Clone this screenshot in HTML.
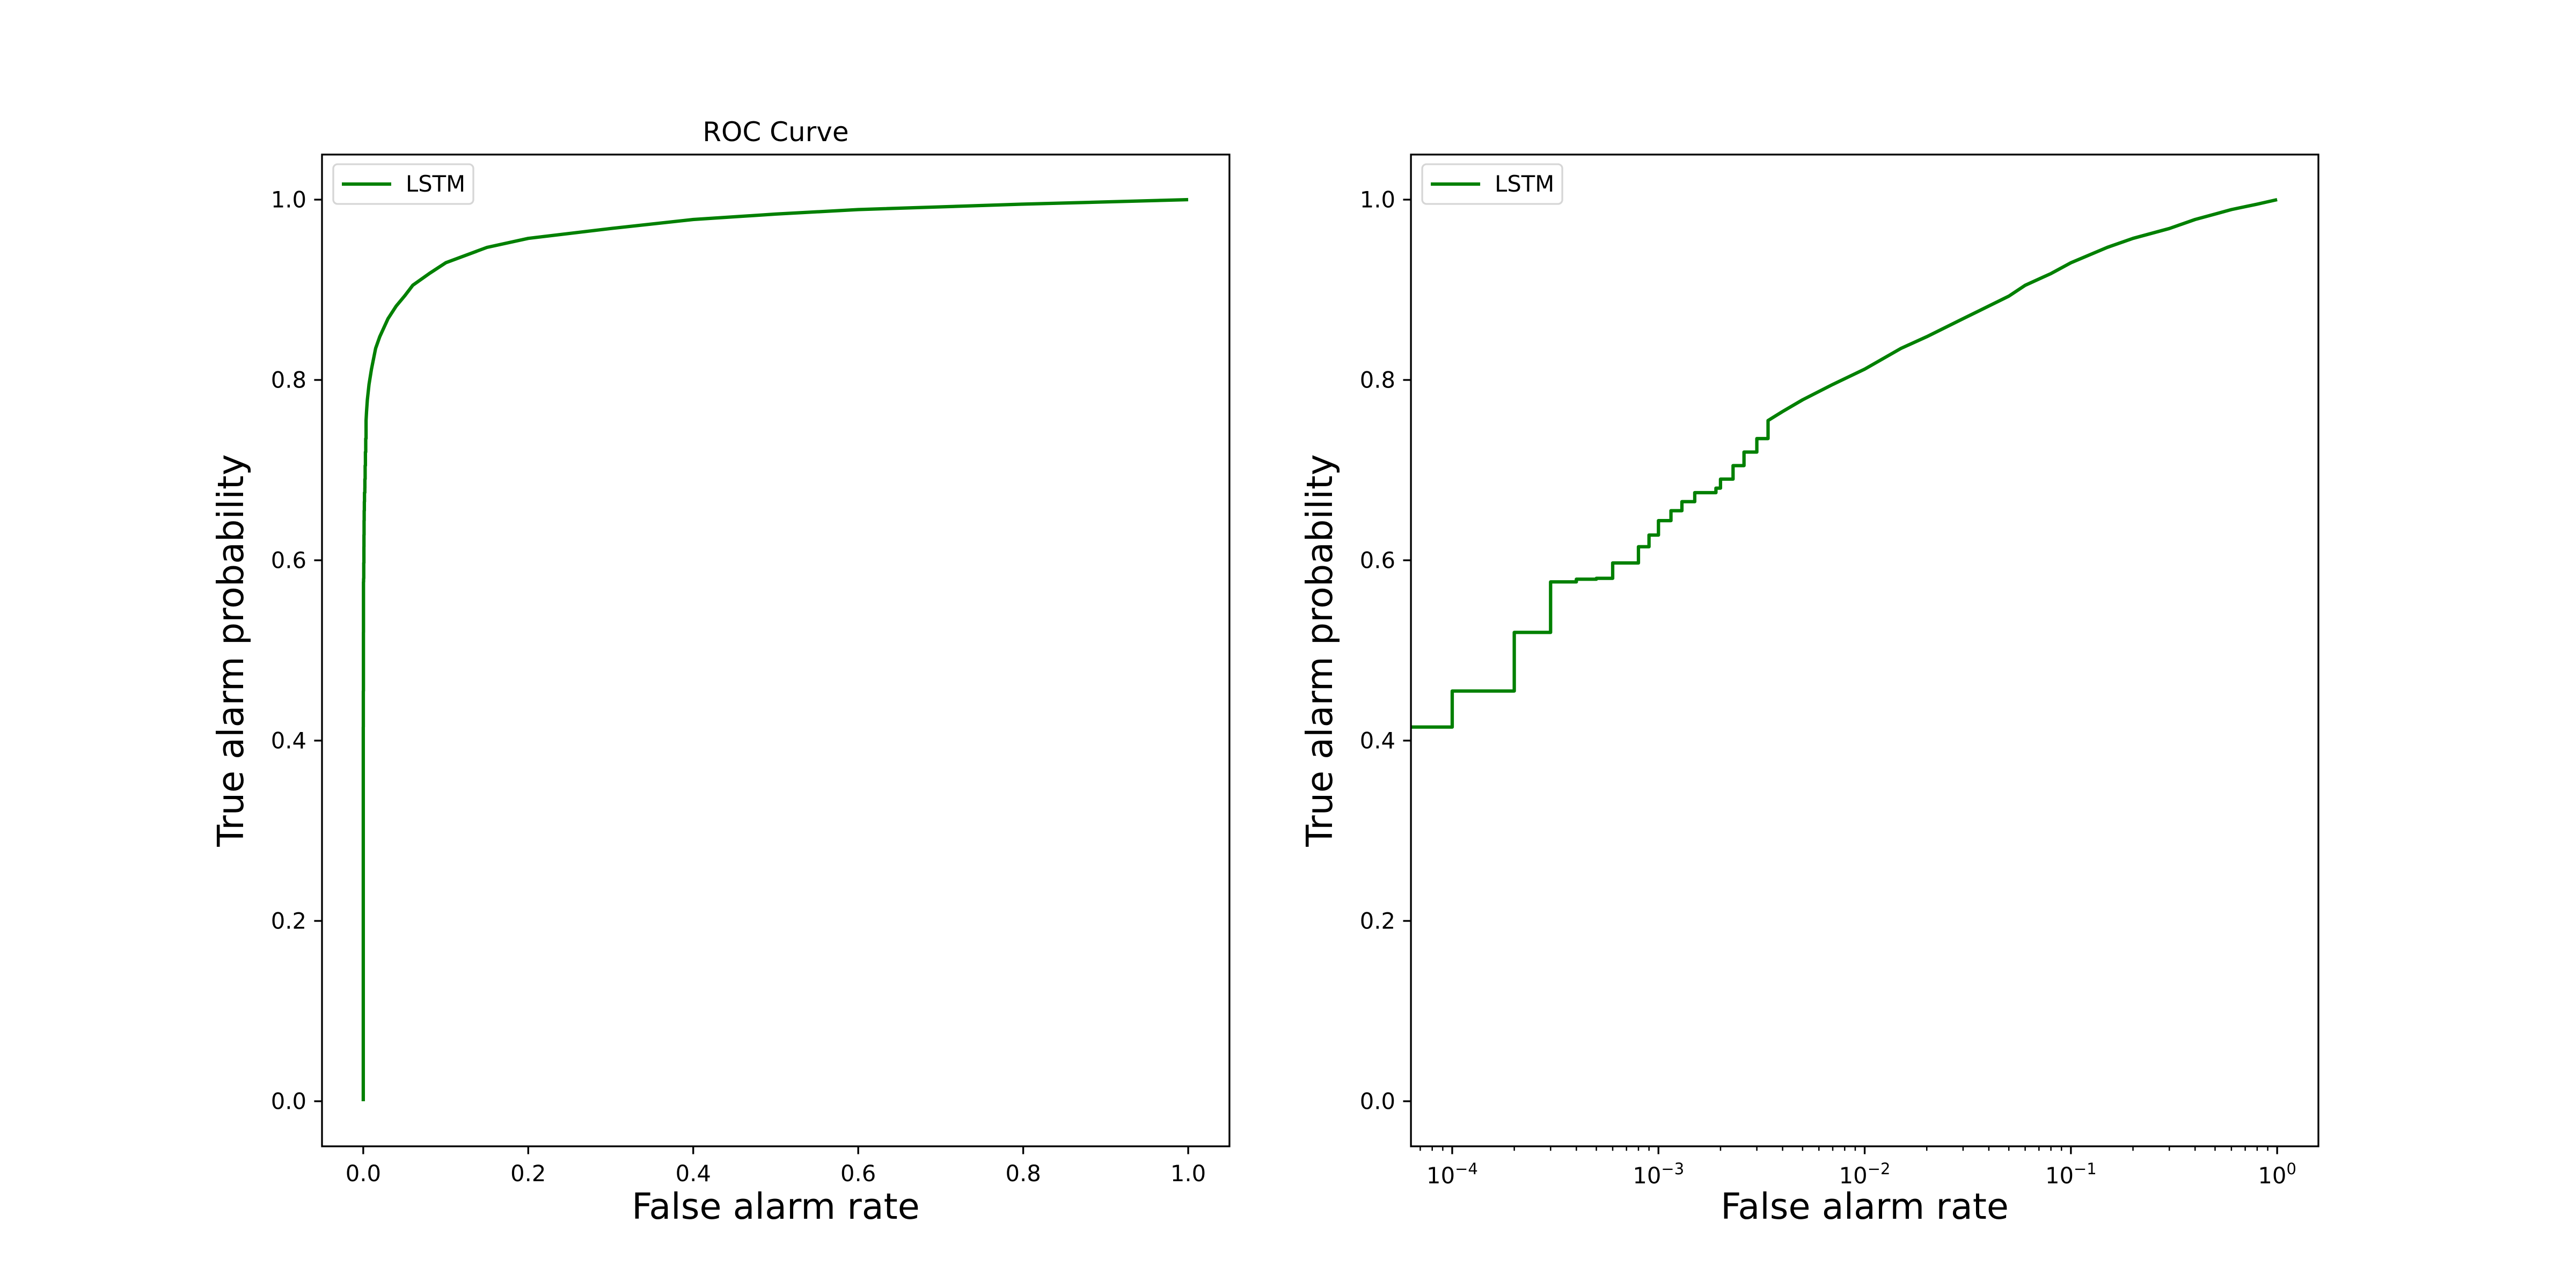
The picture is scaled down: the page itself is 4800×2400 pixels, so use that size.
<!DOCTYPE html>
<html><head><meta charset="utf-8"><style>html,body{margin:0;padding:0;background:#fff}svg{display:block}</style></head>
<body>
<svg id="fig" width="4800" height="2400" viewBox="0 0 4800 2400" xmlns="http://www.w3.org/2000/svg" font-family="'DejaVu Sans','Liberation Sans',sans-serif">
<rect width="4800" height="2400" fill="#fff"/>
<defs>
<clipPath id="c1"><rect x="600" y="288" width="1690.9" height="1848"/></clipPath>
<clipPath id="c2"><rect x="2629.1" y="288" width="1690.9" height="1848"/></clipPath>
</defs>
<g id="g"></g>
</svg>
<script>
const fpr=[0,0,1e-4,1e-4,2e-4,2e-4,3e-4,3e-4,4e-4,4e-4,5e-4,5e-4,6e-4,6e-4,8e-4,8e-4,9e-4,9e-4,1e-3,1e-3,1.15e-3,1.15e-3,1.3e-3,1.3e-3,1.5e-3,1.5e-3,1.9e-3,1.9e-3,2e-3,2e-3,2.3e-3,2.3e-3,2.6e-3,2.6e-3,3e-3,3e-3,3.4e-3,3.4e-3,4e-3,5e-3,7e-3,0.01,0.015,0.02,0.03,0.04,0.05,0.06,0.08,0.1,0.15,0.2,0.3,0.4,0.5,0.6,0.8,1];
const tpr=[0,0.415,0.415,0.455,0.455,0.52,0.52,0.576,0.576,0.579,0.579,0.58,0.58,0.597,0.597,0.615,0.615,0.628,0.628,0.644,0.644,0.655,0.655,0.665,0.665,0.675,0.675,0.68,0.68,0.69,0.69,0.705,0.705,0.72,0.72,0.735,0.735,0.755,0.765,0.778,0.795,0.812,0.835,0.848,0.868,0.882,0.893,0.905,0.918,0.93,0.947,0.957,0.968,0.978,0.984,0.989,0.995,1.0];
const yTicks=[0,0.2,0.4,0.6,0.8,1.0];
const xTicksLin=[0,0.2,0.4,0.6,0.8,1.0];
const xTicksLogExp=[-4,-3,-2,-1,0];
const seriesName='LSTM';

const NS='http://www.w3.org/2000/svg';
const G=document.getElementById('g');
function el(t,a,p){const e=document.createElementNS(NS,t);for(const k in a)e.setAttribute(k,a[k]);(p||G).appendChild(e);return e;}
const axTop=288,axBot=2136,W=1690.9;
const A1=600,A2=2629.1;
const yS=v=>axBot-(v+0.05)/1.1*(axBot-axTop);
const xLin=v=>A1+(v+0.05)/1.1*W;
const xLog=v=>{const l=v>0?Math.log10(v):-4.5;return A2+(l+4.2)/4.4*W;};

function axes(x0,name){
  const g=el('g',{});
  
  
  yTicks.forEach(v=>{
    const y=yS(v);
    const t=el('line',{x1:x0-14.6,x2:x0,y1:y,y2:y,stroke:'#000','stroke-width':3.33},g);
    
    
    const tx=el('text',{x:x0-29,y:y+14.5,'text-anchor':'end','font-size':41.7},g);
    tx.textContent=v.toFixed(1);
    
    
  });
  const yl=el('text',{x:0,y:0,'text-anchor':'middle','font-size':66.7,transform:`translate(${x0-147},${(axTop+axBot)/2}) rotate(-90)`},g);
  yl.textContent='True alarm probability';
  
  
  const xl=el('text',{x:x0+W/2,y:2271,'text-anchor':'middle','font-size':66.7},g);
  xl.textContent='False alarm rate';
  
  
  return g;
}
const g1=axes(A1,'left-axes');
const g2=axes(A2,'right-axes');

xTicksLin.forEach(v=>{
  const x=xLin(v);
  const t=el('line',{x1:x,x2:x,y1:axBot,y2:axBot+14.6,stroke:'#000','stroke-width':3.33},g1);
  
  
  const tx=el('text',{x:x,y:axBot+29+36,'text-anchor':'middle','font-size':41.7},g1);
  tx.textContent=v.toFixed(1);
  
  
});
for(let d=-5;d<=0;d++){for(let m=2;m<=9;m++){const v=m*Math.pow(10,d);const x=xLog(v);if(x<A2||x>A2+W)continue;
  const t=el('line',{x1:x,x2:x,y1:axBot,y2:axBot+8.3,stroke:'#000','stroke-width':2.5},g2);
  
  }}
xTicksLogExp.forEach(e=>{
  const x=xLog(Math.pow(10,e));
  const t=el('line',{x1:x,x2:x,y1:axBot,y2:axBot+14.6,stroke:'#000','stroke-width':3.33},g2);
  
  
  const tx=el('text',{x:x,y:axBot+29+40,'text-anchor':'middle','font-size':41.7},g2);
  
  
  const a=el('tspan',{},tx);a.textContent='10';
  const b=el('tspan',{dy:-17,'font-size':29},tx);b.textContent=(e<0?'\u2212':'')+Math.abs(e);
});

const p1=fpr.map((v,i)=>xLin(v).toFixed(1)+','+yS(tpr[i]).toFixed(1)).join(' ');
const c1=el('polyline',{points:p1,fill:'none',stroke:'#008000','stroke-width':6.25,'stroke-linejoin':'round','clip-path':'url(#c1)'},g1);


const p2=fpr.map((v,i)=>xLog(v).toFixed(1)+','+yS(tpr[i]).toFixed(1)).join(' ');
const c2=el('polyline',{points:p2,fill:'none',stroke:'#008000','stroke-width':6.25,'stroke-linejoin':'round','clip-path':'url(#c2)'},g2);



[[A1,g1],[A2,g2]].forEach(([x0,g])=>{
  const r=el('rect',{x:x0,y:axTop,width:W,height:axBot-axTop,fill:'none',stroke:'#000','stroke-width':3.33},g);
  
  
  const lg=el('g',{},g);
  
  
  const lb=el('rect',{x:x0+21,y:axTop+18,width:261,height:74,rx:8,fill:'#fff','fill-opacity':0.8,stroke:'#d6d6d6','stroke-width':3.33},lg);
  
  
  const ll=el('line',{x1:x0+37,x2:x0+129,y1:axTop+55,y2:axTop+55,stroke:'#008000','stroke-width':6.25},lg);
  
  
  const lt=el('text',{x:x0+156,y:axTop+69,'font-size':41.7},lg);
  lt.textContent=seriesName;
  
  
});
const ti=el('text',{x:A1+W/2,y:263,'text-anchor':'middle','font-size':50},g1);
ti.textContent='ROC Curve';


</script>
</body></html>
